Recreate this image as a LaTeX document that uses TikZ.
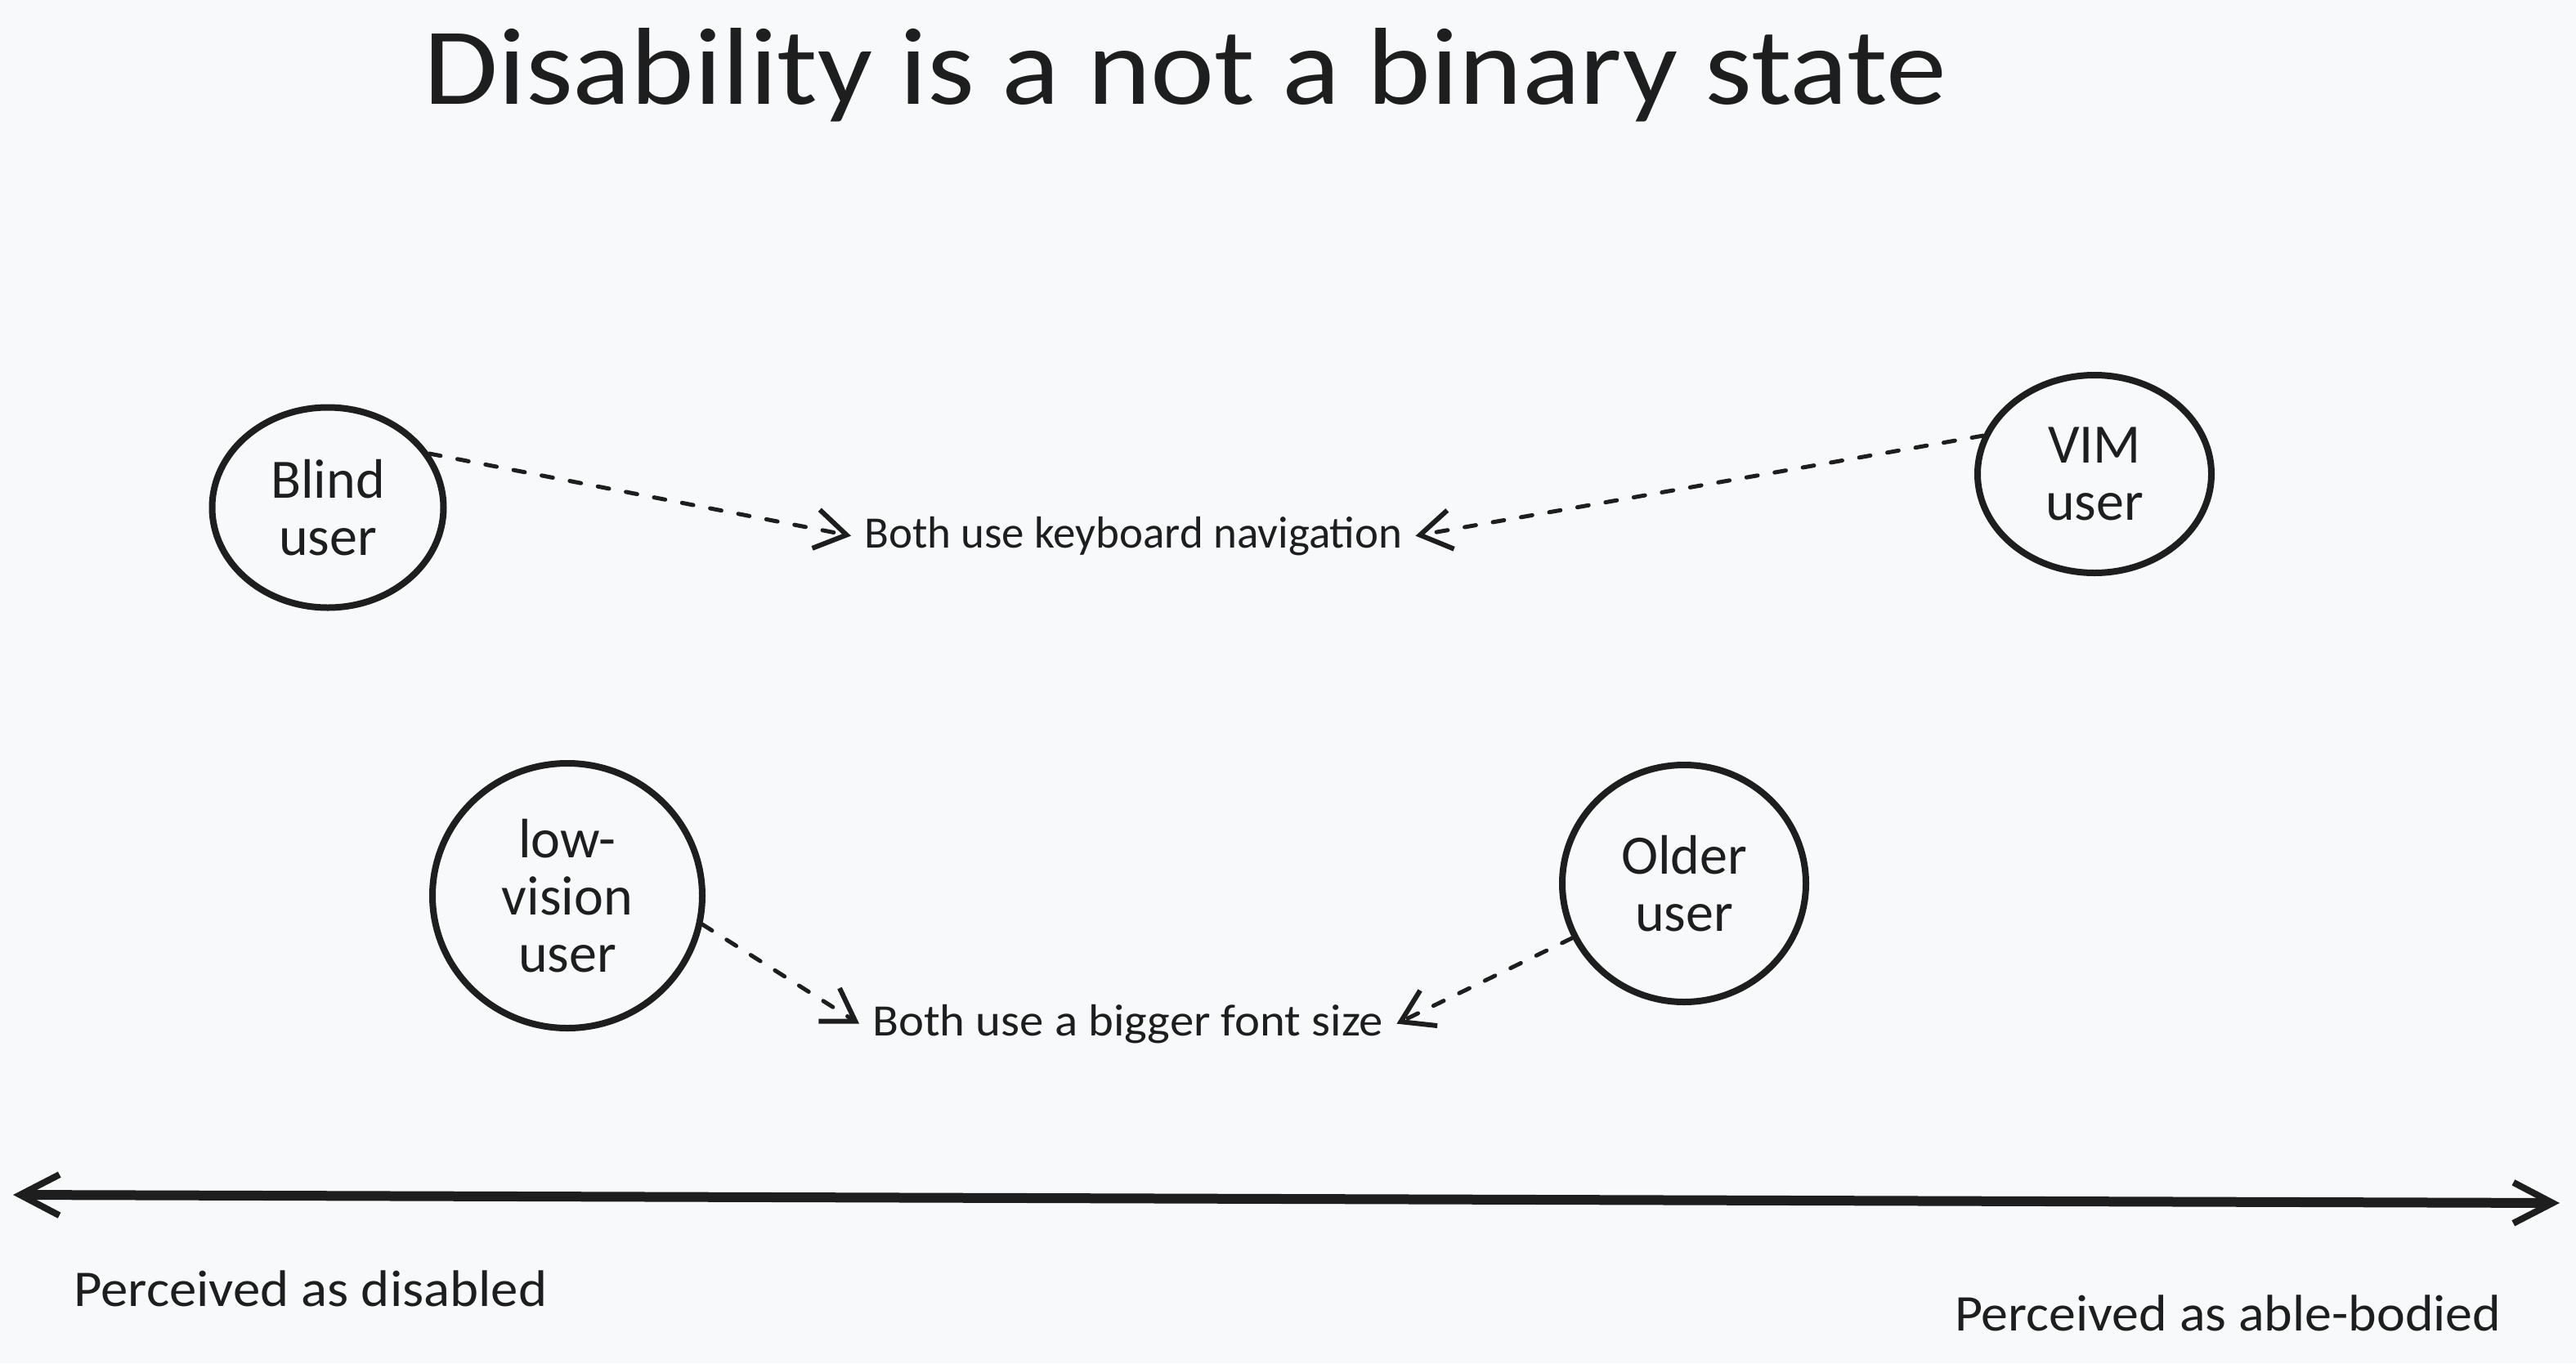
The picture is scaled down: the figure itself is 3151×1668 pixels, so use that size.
\documentclass[tikz,border=0pt]{standalone}
\usepackage{fontspec}
\setmainfont{Carlito}
\usetikzlibrary{shapes.geometric,arrows.meta}
\definecolor{bg}{RGB}{248,249,250}
\definecolor{ink}{RGB}{30,30,30}
\newcommand\fitw[2]{\resizebox{#1}{\height}{#2}}
\begin{document}
\begin{tikzpicture}[x=1pt,y=-1pt,
  user/.style={ellipse,draw=ink,line width=8pt,inner sep=0pt,align=center,text=ink,
    font=\fontsize{68}{70}\selectfont},
  note/.style={inner xsep=16pt,inner ysep=4pt,text=ink,font=\fontsize{55}{60}\selectfont},
  heading/.style={inner sep=0pt,text=ink,font=\fontsize{134}{140}\selectfont},
  axislabel/.style={inner sep=0pt,text=ink,font=\fontsize{63}{66}\selectfont},
  link/.style={draw=ink,line width=5pt,line cap=round,dash pattern=on 14pt off 21pt,
    -{Straight Barb[length=38pt,width=48pt,line width=6pt]}},
  axisline/.style={draw=ink,line width=12pt,
    {Straight Barb[length=48pt,width=50pt,line width=8pt]}-{Straight Barb[length=48pt,width=50pt,line width=8pt]}}
]
\fill[bg] (0,0) rectangle (3151,1668);
\useasboundingbox (0,0) rectangle (3151,1668);

\node[heading,anchor=base west] (title) at (518,127) {\fitw{1863pt}{Disability is a not a binary state}};

\node[user,minimum width=283pt,minimum height=245pt] (blind) at (401,621) {Blind\\user};
\node[user,minimum width=286pt,minimum height=242pt] (vim) at (2562,580) {VIM\\user};
\node[user,minimum width=330pt,minimum height=324pt] (lowvis) at (694,1096) {low-\\vision\\user};
\node[user,minimum width=298pt,minimum height=290pt] (older) at (2060,1081) {Older\\user};

\node[note,anchor=base west] (kb) at (1041,670) {\fitw{658pt}{Both use keyboard navigation}};
\node[note,anchor=base west] (font) at (1051,1267) {\fitw{625pt}{Both use a bigger font size}};

\draw[link] (blind.28) -- (kb.west);
\draw[link] (vim.161) -- (kb.east);
\draw[link] (lowvis.-12) -- (font.west);
\draw[link] (older.206) -- (font.east);

\coordinate (axl) at (16,1462);
\coordinate (axr) at (3131,1472);
\draw[axisline] (axl) -- (axr);

\node[axislabel,anchor=base west] (dis) at (90,1598) {\fitw{579pt}{Perceived as disabled}};
\node[axislabel,anchor=base west] (able) at (2391,1628) {\fitw{668pt}{Perceived as able-bodied}};
\end{tikzpicture}
\end{document}
